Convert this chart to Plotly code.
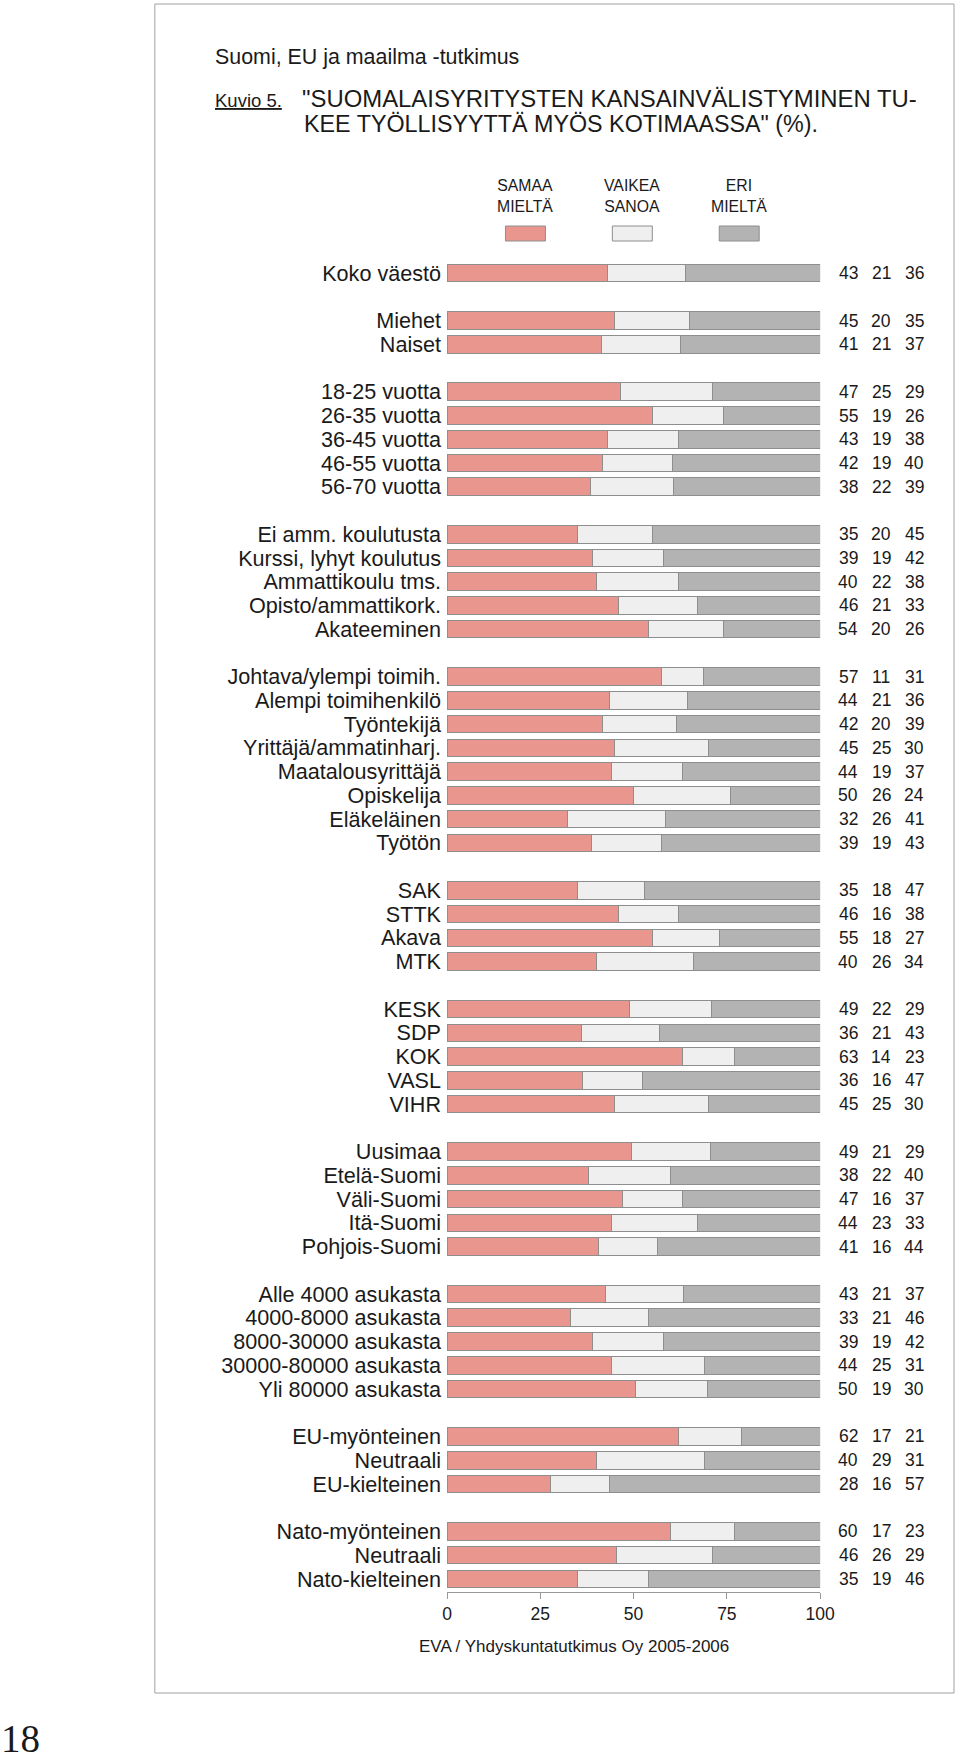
import plotly.graph_objects as go

# ---------------- data ----------------
categories = [
    "Koko väestö",
    "Miehet", "Naiset",
    "18-25 vuotta", "26-35 vuotta", "36-45 vuotta", "46-55 vuotta", "56-70 vuotta",
    "Ei amm. koulutusta", "Kurssi, lyhyt koulutus", "Ammattikoulu tms.",
    "Opisto/ammattikork.", "Akateeminen",
    "Johtava/ylempi toimih.", "Alempi toimihenkilö", "Työntekijä",
    "Yrittäjä/ammatinharj.", "Maatalousyrittäjä", "Opiskelija", "Eläkeläinen", "Työtön",
    "SAK", "STTK", "Akava", "MTK",
    "KESK", "SDP", "KOK", "VASL", "VIHR",
    "Uusimaa", "Etelä-Suomi", "Väli-Suomi", "Itä-Suomi", "Pohjois-Suomi",
    "Alle 4000 asukasta", "4000-8000 asukasta", "8000-30000 asukasta",
    "30000-80000 asukasta", "Yli 80000 asukasta",
    "EU-myönteinen", "Neutraali", "EU-kielteinen",
    "Nato-myönteinen", "Neutraali", "Nato-kielteinen",
]
group_sizes = [1, 2, 5, 5, 8, 4, 5, 5, 5, 3, 3]

samaa_mielta = [43, 45, 41, 47, 55, 43, 42, 38, 35, 39, 40, 46, 54,
                57, 44, 42, 45, 44, 50, 32, 39, 35, 46, 55, 40,
                49, 36, 63, 36, 45, 49, 38, 47, 44, 41,
                43, 33, 39, 44, 50, 62, 40, 28, 60, 46, 35]
vaikea_sanoa = [21, 20, 21, 25, 19, 19, 19, 22, 20, 19, 22, 21, 20,
                11, 21, 20, 25, 19, 26, 26, 19, 18, 16, 18, 26,
                22, 21, 14, 16, 25, 21, 22, 16, 23, 16,
                21, 21, 19, 25, 19, 17, 29, 16, 17, 26, 19]
eri_mielta = [36, 35, 37, 29, 26, 38, 40, 39, 45, 42, 38, 33, 26,
              31, 36, 39, 30, 37, 24, 41, 43, 47, 38, 27, 34,
              29, 43, 23, 47, 30, 29, 40, 37, 33, 44,
              37, 46, 42, 31, 30, 21, 31, 57, 23, 29, 46]

series_names = ["SAMAA<br>MIELTÄ", "VAIKEA<br>SANOA", "ERI<br>MIELTÄ"]
colors = ["#E8968E", "#EFEFEF", "#B3B3B3"]
x_ticks = [0, 25, 50, 75, 100]

# ---------------- layout helpers ----------------
W, H = 960, 1759
SANS = "Liberation Sans, Arial, sans-serif"
TXT = "#1a1a1a"
# the page is drawn slightly narrower than the window; map target pixels to paper
X_OFF, W_EFF = 5.0, 941.0


def px(x):
    return (x - X_OFF) / W_EFF


def py(y):
    return 1 - y / H


# row positions with an empty slot between groups
positions = []
p = 0
for size in group_sizes:
    for _ in range(size):
        positions.append(p)
        p += 1
    p += 1

# bars show shares of 100 %
totals = [a + b + c for a, b, c in zip(samaa_mielta, vaikea_sanoa, eri_mielta)]
shares = [
    [v * 100 / t for v, t in zip(vals, totals)]
    for vals in (samaa_mielta, vaikea_sanoa, eri_mielta)
]

fig = go.Figure()
for name, col, vals in zip(series_names, colors, shares):
    fig.add_trace(go.Bar(
        x=vals, y=positions, orientation="h", name=name,
        marker=dict(color=col, line=dict(color="#8e8e8e", width=1)),
        width=0.74, hoverinfo="skip", showlegend=False,
    ))

annotations = []
# value columns
col_x = [849, 882, 915]
for vals, cx in zip((samaa_mielta, vaikea_sanoa, eri_mielta), col_x):
    for v, pos in zip(vals, positions):
        annotations.append(dict(
            x=px(cx), xref="paper", y=pos, yref="y", text=str(v),
            showarrow=False, xanchor="center", yanchor="middle",
            font=dict(family=SANS, size=17.5, color=TXT)))

# titles
heads = [
    dict(x=px(213), y=py(57), text="Suomi, EU ja maailma -tutkimus",
         font=dict(family=SANS, size=21.4, color=TXT)),
    dict(x=px(213), y=py(100), text="<u>Kuvio 5.</u>",
         font=dict(family=SANS, size=18.5, color=TXT)),
    dict(x=px(300), y=py(99), text='"SUOMALAISYRITYSTEN KANSAINVÄLISTYMINEN TU-',
         font=dict(family=SANS, size=23.9, color=TXT)),
    dict(x=px(302), y=py(124), text='KEE TYÖLLISYYTTÄ MYÖS KOTIMAASSA" (%).',
         font=dict(family=SANS, size=23.3, color=TXT)),
    dict(x=px(575), y=py(1646), text="EVA / Yhdyskuntatutkimus Oy 2005-2006",
         xanchor="center", font=dict(family=SANS, size=17, color=TXT)),
    dict(x=px(-1), y=py(1738), text="18",
         font=dict(family="Liberation Serif, Times New Roman, serif", size=39, color=TXT)),
]
for a in heads:
    a.setdefault("xref", "paper")
    a.setdefault("yref", "paper")
    a.setdefault("xanchor", "left")
    a["yanchor"] = "middle"
    a["showarrow"] = False
annotations += heads

# legend (text + swatches)
shapes = []
leg_x = [526, 633, 740]
for name, col, cx in zip(series_names, colors, leg_x):
    annotations.append(dict(
        x=px(cx), y=py(196), xref="paper", yref="paper", text=name,
        showarrow=False, xanchor="center", yanchor="middle",
        font=dict(family=SANS, size=15.8, color=TXT)))
    shapes.append(dict(
        type="rect", xref="paper", yref="paper",
        x0=px(cx - 20), x1=px(cx + 20), y0=py(241), y1=py(226),
        fillcolor=col, line=dict(color="#8e8e8e", width=1)))

# outer frame
shapes.append(dict(type="rect", xref="paper", yref="paper",
                   x0=px(155), x1=px(955), y0=py(1693), y1=py(4),
                   line=dict(color="#a0a0a0", width=1), fillcolor="rgba(0,0,0,0)"))

fig.update_layout(
    width=W, height=H, autosize=False,
    margin=dict(l=0, r=0, t=0, b=0, pad=0),
    paper_bgcolor="white", plot_bgcolor="white",
    barmode="stack", showlegend=False,
    xaxis=dict(
        domain=[px(447.5), px(821)], range=[0, 100],
        tickvals=x_ticks, ticktext=[str(t) for t in x_ticks],
        ticks="outside", ticklen=6, tickcolor="#999999", tickwidth=1,
        showline=True, linecolor="#999999", linewidth=1,
        showgrid=False, zeroline=False,
        tickfont=dict(family=SANS, size=17.5, color=TXT),
    ),
    yaxis=dict(
        domain=[py(1592), py(260)], range=[55.55, -0.55],
        tickvals=positions, ticktext=categories,
        ticks="", showgrid=False, zeroline=False, showline=False,
        tickfont=dict(family=SANS, size=21.6, color=TXT),
        ticklabelstandoff=5,
    ),
    annotations=annotations,
    shapes=shapes,
)

fig.write_html(
    "out.html",
    config={"responsive": False, "displayModeBar": False},
    post_script="document.documentElement.style.overflow='hidden';"
                "document.body.style.margin='0';document.body.style.overflow='hidden';",
)
